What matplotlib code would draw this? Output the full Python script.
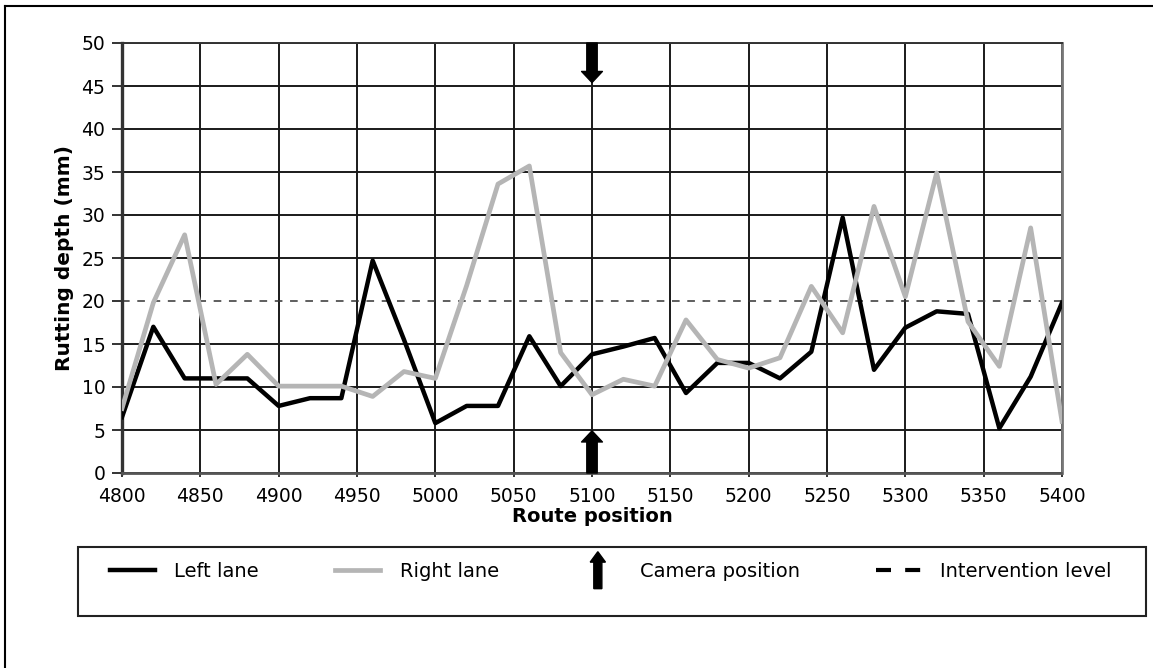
import matplotlib
matplotlib.use("Agg")
import matplotlib.pyplot as plt
from matplotlib.lines import Line2D
from matplotlib.patches import FancyArrow, Rectangle
from matplotlib.legend_handler import HandlerPatch

# route positions (every 20 m)
positions = list(range(4800, 5420, 20))

# rutting depth in mm
left_lane = [6.5, 17.0, 11.0, 11.0, 11.0, 7.8, 8.7, 8.7, 24.7, 15.5,
             5.8, 7.8, 7.8, 15.9, 10.1, 13.8, 14.7, 15.7, 9.3, 12.8,
             12.8, 11.0, 14.1, 29.7, 12.0, 16.9, 18.8, 18.5, 5.2, 11.2,
             19.8]
right_lane = [7.5, 19.8, 27.7, 10.3, 13.8, 10.1, 10.1, 10.1, 8.9, 11.8,
              11.0, 21.8, 33.6, 35.7, 14.0, 9.1, 10.9, 10.1, 17.8, 13.2,
              12.2, 13.4, 21.7, 16.3, 31.0, 20.5, 34.9, 17.6, 12.4, 28.5,
              6.0]

intervention_level = 20
camera_position = 5100
camera_top = (50, 45.4)
camera_bottom = (0, 4.9)

x_ticks = list(range(4800, 5450, 50))
y_ticks = list(range(0, 55, 5))

legend_labels = ["Left lane", "Right lane", "Camera position", "Intervention level"]

W, H = 1153, 668
fig = plt.figure(figsize=(W / 100, H / 100), dpi=100)
ax = fig.add_axes([122 / W, 1 - 473 / H, (1062 - 122) / W, (473 - 43) / H])

grey = "#b5b5b5"
ax.plot(positions, left_lane, color="black", lw=3.2, zorder=3)
ax.plot(positions, right_lane, color=grey, lw=3.4, zorder=4)
ax.axhline(intervention_level, xmin=0, xmax=1.007, clip_on=False,
           color="#333333", lw=1.1, dashes=(5, 5), zorder=2)

# camera position arrows
arrow_style = "simple,head_length=0.8,head_width=1.5,tail_width=0.75"
for (y_from, y_to) in [camera_top, camera_bottom]:
    ax.annotate("", xy=(camera_position, y_to), xytext=(camera_position, y_from),
                arrowprops=dict(arrowstyle=arrow_style, mutation_scale=10,
                                color="black", shrinkA=0, shrinkB=0),
                annotation_clip=False, zorder=5)

ax.set_xlim(4800, 5400)
ax.set_ylim(0, 50)
ax.set_xticks(x_ticks)
ax.set_yticks(y_ticks)
ax.grid(True, color="#1a1a1a", lw=1.4)
ax.set_axisbelow(True)
# no solid gridline where the intervention level sits
ax.yaxis.get_gridlines()[y_ticks.index(intervention_level)].set_visible(False)

ax.tick_params(axis="y", length=7, width=1.4, color="#333333", pad=5, labelsize=13.5)
ax.tick_params(axis="x", length=3, width=1.4, color="#333333", pad=7, labelsize=13.5)

ax.spines["left"].set_color("#333333")
ax.spines["left"].set_linewidth(2.4)
ax.spines["bottom"].set_color("#555555")
ax.spines["bottom"].set_linewidth(2)
ax.spines["bottom"].set_linestyle((0, (2, 1)))
ax.spines["right"].set_color("#777777")
ax.spines["right"].set_linewidth(2)
ax.spines["top"].set_color("#333333")
ax.spines["top"].set_linewidth(1.4)

ax.set_xlabel("Route position", fontweight="bold", fontsize=14)
ax.set_ylabel("Rutting depth (mm)", fontweight="bold", fontsize=14.5)
ax.xaxis.set_label_coords(0.5, (473 - 507) / 430)
ax.yaxis.set_label_coords((74 - 122) / 940, 0.5)


# legend with an upward arrow for the camera
def make_arrow(legend, orig_handle, xdescent, ydescent, width, height, fontsize):
    cx = width / 2 - xdescent
    y0 = height / 2 - ydescent - 13.3
    return FancyArrow(cx, y0, 0, 26.6, width=5.8, head_width=11, head_length=7.5,
                      length_includes_head=True)


camera_handle = FancyArrow(0, 0, 0, 1, color="black")
handles = [Line2D([], [], color="black", lw=3.2),
           Line2D([], [], color=grey, lw=3.4),
           camera_handle,
           Line2D([], [], color="black", lw=3, dashes=(3.6, 3.4))]

fig.legend(handles, legend_labels, loc="upper left",
           bbox_to_anchor=(110 / W, 1 - 600 / H, 1002 / W, 38 / H),
           bbox_transform=fig.transFigure, ncol=4, mode="expand", frameon=False,
           fontsize=14, handlelength=2.3, handletextpad=1.0,
           borderaxespad=0, borderpad=0,
           handler_map={camera_handle: HandlerPatch(patch_func=make_arrow)})

fig.add_artist(Rectangle((78 / W, 1 - 616 / H), (1146 - 78) / W, (616 - 547) / H,
                         transform=fig.transFigure, fill=False, ec="#222222", lw=1.5))

# outer frame (left and top edges)
fig.add_artist(Line2D([5 / W, 5 / W], [0, 1 - 6 / H], transform=fig.transFigure,
                      color="black", lw=1.5))
fig.add_artist(Line2D([5 / W, 1], [1 - 6 / H, 1 - 6 / H], transform=fig.transFigure,
                      color="black", lw=1.5))

fig.savefig("out.png", dpi=100)
